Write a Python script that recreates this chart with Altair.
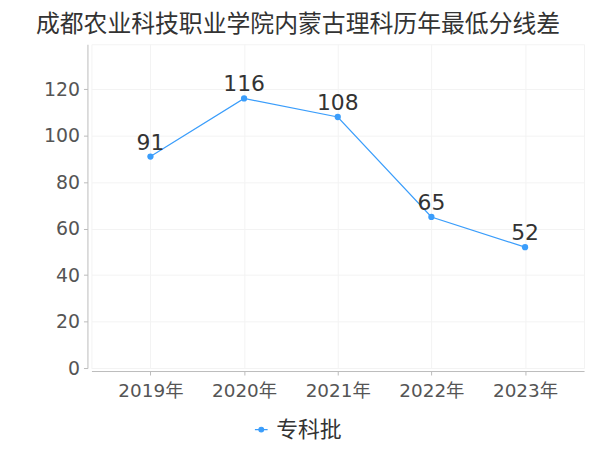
import altair as alt
import pandas as pd

years = ["2019年", "2020年", "2021年", "2022年", "2023年"]
values = [91, 116, 108, 65, 52]
series = ["专科批"] * 5

df = pd.DataFrame({"year": years, "value": values, "series": series})

FONT = "DejaVu Sans, Noto Sans CJK SC"
BLUE = "#3a9dfb"

x = alt.X("year:N", sort=years, title=None,
          scale=alt.Scale(type="point", padding=0.63),
          axis=alt.Axis(labelFontSize=18.5, labelColor="#555", labelFont=FONT,
                        labelAngle=0, labelPadding=7, tickSize=4, tickColor="#bbb",
                        domainColor="#bbb", grid=True, gridColor="#f3f3f3", offset=3))
y = alt.Y("value:Q", title=None,
          scale=alt.Scale(domain=[0, 139.3], nice=False),
          axis=alt.Axis(values=[0, 20, 40, 60, 80, 100, 120], labelFontSize=19,
                        labelColor="#555", labelFont=FONT, tickSize=4, tickColor="#bbb",
                        domainColor="#bbb", grid=True, gridColor="#f3f3f3", offset=4,
                        labelPadding=4))

sym = "M-1.6,0L1.6,0M0.6,0A0.6,0.6,0,1,1,-0.6,0A0.6,0.6,0,1,1,0.6,0Z"
color = alt.Color("series:N", scale=alt.Scale(range=[BLUE]),
                  legend=alt.Legend(title=None, orient="none", legendX=160, legendY=377,
                                    labelFontSize=22, labelColor="#333",
                                    labelFont="Noto Sans CJK SC",
                                    symbolType=sym, symbolSize=64, symbolFillColor=BLUE,
                                    symbolStrokeColor=BLUE, symbolStrokeWidth=1.2,
                                    direction="horizontal"))

base = alt.Chart(df)
line = base.mark_line(strokeWidth=1.2).encode(x=x, y=y, color=color)
pts = base.mark_circle(size=40, opacity=1).encode(x=x, y=y, color=color)
labels = base.mark_text(dy=-14, fontSize=22, color="#333", font=FONT).encode(
    x=x, y=y, text="value:Q")

chart = (line + pts + labels).properties(
    width=496, height=326,
    autosize=alt.AutoSizeParams(type="none"),
    padding={"left": 84, "top": 35, "right": 8, "bottom": 80},
    title=alt.TitleParams("成都农业科技职业学院内蒙古理科历年最低分线差", fontSize=24,
                          font="Noto Sans CJK SC", color="#333", fontWeight="normal",
                          anchor="middle", offset=7, dx=-40),
).configure_view(stroke="#f3f3f3")

chart.save("out.html", embed_options={"renderer": "svg", "actions": False})
